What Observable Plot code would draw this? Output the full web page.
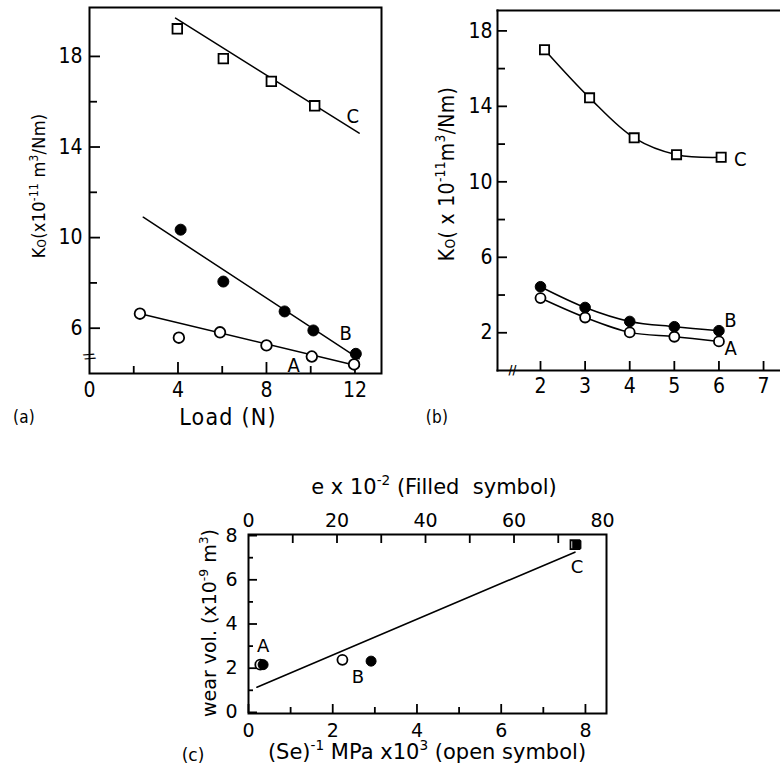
<!DOCTYPE html>
<html><head><meta charset="utf-8">
<script src="https://cdn.jsdelivr.net/npm/d3@7"></script>
<script src="https://cdn.jsdelivr.net/npm/@observablehq/plot@0.6"></script>
<style>
body{margin:0;background:#fff;overflow:hidden}
#root{position:relative;width:780px;height:778px;background:#fff;color:#000;overflow:hidden}
#root svg{position:absolute}
.lab{position:absolute;white-space:nowrap;transform:translate(-50%,-50%);line-height:1;font-family:"Liberation Sans Narrow","DejaVu Sans Condensed",sans-serif;font-size:21px;letter-spacing:0.3px}
.rot{transform:translate(-50%,-50%) rotate(-90deg)}
.c{font-family:"DejaVu Sans",sans-serif;font-size:21px;letter-spacing:0}
sup{font-size:0.65em;vertical-align:0.6em;line-height:0}
sub{font-size:0.65em;vertical-align:-0.1em;line-height:0}
</style></head>
<body><div id="root"></div>
<script>
// ---------- panel (a): Ko vs Load ----------
const aLoadA = [2.28, 4.04, 5.9, 8.0, 10.05, 11.96];
const aKoA   = [6.64, 5.58, 5.82, 5.24, 4.75, 4.4];
const aLoadB = [4.12, 6.05, 8.82, 10.12, 12.04];
const aKoB   = [10.35, 8.06, 6.74, 5.90, 4.87];
const aLoadC = [3.97, 6.05, 8.22, 10.18];
const aKoC   = [19.22, 17.9, 16.9, 15.82];
const aFitLoadA = [2.3, 12.19],  aFitKoA = [6.64, 4.32];
const aFitLoadB = [2.43, 12.19], aFitKoB = [10.9, 4.65];
const aFitLoadC = [3.89, 12.19], aFitKoC = [19.69, 14.61];
const aNames = ["A", "B", "C"];
const aNameLoad = [9.23, 11.58, 11.9];
const aNameKo = [4.35, 5.77, 15.35];
const aYTicks = [6, 10, 14, 18], aYMinor = [8, 12, 16];
const aXLabels = [0, 4, 8, 12], aXTicks = [4, 8, 12], aXMinor = [2, 6, 10];
const aBreakKo = [4.75];

// ---------- panel (b) ----------
const bX = [2, 3, 4, 5, 6];
const bXC = [2.09, 3.1, 4.1, 5.05, 6.05];
const bKoA = [3.84, 2.81, 2.02, 1.79, 1.54];
const bKoB = [4.44, 3.34, 2.60, 2.32, 2.11];
const bKoC = [17.0, 14.45, 12.33, 11.44, 11.3];
const bNames = ["A", "B", "C"];
const bNameX = [6.26, 6.26, 6.48];
const bNameKo = [1.15, 2.64, 11.2];
const bYTicks = [2, 6, 10, 14, 18], bYMinor = [4, 8, 12, 16];
const bXTicks = [2, 3, 4, 5, 6, 7];
const bBreakX = [1.37];

// ---------- panel (c): wear volume ----------
const cOpenSe = [0.28, 2.23];       // (Se)^-1 MPa x10^3, open circles A, B
const cOpenWear = [2.16, 2.38];
const cFilledE = [3.3, 27.7];       // e x10^-2, filled circles A, B
const cFilledWear = [2.16, 2.32];
const cSquareSe = [7.75], cSquareWear = [7.59];   // C open
const cSquareE = [74.2];                          // C filled
const cFitSe = [0.2, 7.75], cFitWear = [1.14, 7.25];
const cNames = ["A", "B", "C"];
const cNameSe = [0.35, 2.6, 7.8];
const cNameWear = [3.0, 1.6, 6.55];
const cYTicks = [0, 2, 4, 6, 8], cYMinor = [1, 3, 5, 7];
const cXTicks = [0, 2, 4, 6, 8], cXMinor = [1, 3, 5, 7];
const cTopTicks = [0, 20, 40, 60, 80], cTopMinor = [10, 20, 30, 40, 50, 60, 70];

const root = document.getElementById("root");
const pts = (xs, ys) => xs.map((x, i) => ({x, y: ys[i]}));
const lbl = (xs, ys, t) => xs.map((x, i) => ({x, y: ys[i], t: t[i]}));
const narrow = '"Liberation Sans Narrow","DejaVu Sans Condensed",sans-serif';
const K = "#000";

function place(svg, left, top) {
  svg.style.left = left + "px"; svg.style.top = top + "px";
  root.appendChild(svg);
}

// panel (a)
{
  const W = 390, H = 420, mL = 89, mT = 7, mR = 9, mB = 47;
  const fw = W - mL - mR, fh = H - mT - mB;
  const svg = Plot.plot({
    width: W, height: H, marginLeft: mL, marginTop: mT, marginRight: mR, marginBottom: mB,
    x: {domain: [0, 13.2]}, y: {domain: [4.0, 20.16]},
    style: {fontFamily: narrow, fontSize: "21px", color: K, background: "transparent", overflow: "visible"},
    marks: [
      Plot.frame({stroke: K, strokeWidth: 2}),
      Plot.tickY(aYTicks, {y: d => d, insetRight: fw - 11, stroke: K, strokeWidth: 1.8}),
      Plot.tickY(aYMinor, {y: d => d, insetRight: fw - 8, stroke: K, strokeWidth: 1.8}),
      Plot.tickX(aXTicks, {x: d => d, insetTop: fh - 11, stroke: K, strokeWidth: 1.8}),
      Plot.tickX(aXMinor, {x: d => d, insetTop: fh - 7, stroke: K, strokeWidth: 1.8}),
      Plot.axisY(aYTicks, {tickSize: 0, tickPadding: 7, label: null, fontSize: 21}),
      Plot.axisX(aXLabels, {tickSize: 0, tickPadding: 9, label: null, fontSize: 21}),
      Plot.text(aBreakKo, {x: 0, y: d => d, text: () => "//", rotate: 70, fontSize: 13, fontWeight: "bold"}),
      Plot.line(pts(aFitLoadC, aFitKoC), {x: "x", y: "y", stroke: K, strokeWidth: 1.5}),
      Plot.line(pts(aFitLoadB, aFitKoB), {x: "x", y: "y", stroke: K, strokeWidth: 1.5}),
      Plot.line(pts(aFitLoadA, aFitKoA), {x: "x", y: "y", stroke: K, strokeWidth: 1.5}),
      Plot.dot(pts(aLoadA, aKoA), {x: "x", y: "y", r: 5.3, fill: "#fff", stroke: K, strokeWidth: 1.8}),
      Plot.dot(pts(aLoadB, aKoB), {x: "x", y: "y", r: 5.5, fill: K, stroke: K, strokeWidth: 1}),
      Plot.dot(pts(aLoadC, aKoC), {x: "x", y: "y", r: 5.4, symbol: "square", fill: "#fff", stroke: K, strokeWidth: 1.8}),
      Plot.text(lbl(aNameLoad, aNameKo, aNames), {x: "x", y: "y", text: "t", fontSize: 20})
    ]
  });
  place(svg, 0, 0);
}

// panel (b)
{
  const W = 390, H = 420, mL = 107, mT = 10, mR = 0, mB = 50;
  const fw = W - mL - mR, fh = H - mT - mB;
  const svg = Plot.plot({
    width: W, height: H, marginLeft: mL, marginTop: mT, marginRight: mR, marginBottom: mB,
    x: {domain: [1.036, 7.38]}, y: {domain: [0, 19.08]},
    style: {fontFamily: narrow, fontSize: "21px", color: K, background: "transparent", overflow: "visible"},
    marks: [
      Plot.frame({anchor: "left", stroke: K, strokeWidth: 2}),
      Plot.frame({anchor: "bottom", stroke: K, strokeWidth: 2}),
      Plot.frame({anchor: "top", stroke: K, strokeWidth: 2}),
      Plot.tickY(bYTicks, {y: d => d, insetRight: fw - 10, stroke: K, strokeWidth: 1.8}),
      Plot.tickY(bYMinor, {y: d => d, insetRight: fw - 8, stroke: K, strokeWidth: 1.8}),
      Plot.tickX(bXTicks, {x: d => d, insetTop: fh - 9, stroke: K, strokeWidth: 1.8}),
      Plot.axisY(bYTicks, {tickSize: 0, tickPadding: 5, label: null, fontSize: 21}),
      Plot.axisX(bXTicks, {tickSize: 0, tickPadding: 8, label: null, fontSize: 21}),
      Plot.text(bBreakX, {x: d => d, y: 0, text: () => "//", fontSize: 12, fontWeight: "bold"}),
      Plot.line(pts(bXC, bKoC), {x: "x", y: "y", stroke: K, strokeWidth: 1.5, curve: "catmull-rom"}),
      Plot.line(pts(bX, bKoB), {x: "x", y: "y", stroke: K, strokeWidth: 1.5, curve: "catmull-rom"}),
      Plot.line(pts(bX, bKoA), {x: "x", y: "y", stroke: K, strokeWidth: 1.5, curve: "catmull-rom"}),
      Plot.dot(pts(bX, bKoB), {x: "x", y: "y", r: 5.3, fill: K, stroke: K, strokeWidth: 1}),
      Plot.dot(pts(bX, bKoA), {x: "x", y: "y", r: 5, fill: "#fff", stroke: K, strokeWidth: 1.8}),
      Plot.dot(pts(bXC, bKoC), {x: "x", y: "y", r: 5.2, symbol: "square", fill: "#fff", stroke: K, strokeWidth: 1.8}),
      Plot.text(lbl(bNameX, bNameKo, bNames), {x: "x", y: "y", text: "t", fontSize: 20})
    ]
  });
  place(svg, 390, 0);
}

// panel (c)
{
  const W = 780, H = 260, mL = 248, mT = 54, mR = 174, mB = 27;
  const fw = W - mL - mR, fh = H - mT - mB;
  const yDom = [-0.05, 8.05];
  const st = {fontFamily: '"DejaVu Sans",sans-serif', fontSize: "19px", color: K, background: "transparent", overflow: "visible"};
  const bottom = Plot.plot({
    width: W, height: H, marginLeft: mL, marginTop: mT, marginRight: mR, marginBottom: mB,
    x: {domain: [0, 8.5]}, y: {domain: yDom}, style: st,
    marks: [
      Plot.frame({stroke: K, strokeWidth: 2}),
      Plot.tickY(cYTicks, {y: d => d, insetRight: fw - 9, stroke: K, strokeWidth: 1.8}),
      Plot.tickY(cYMinor, {y: d => d, insetRight: fw - 5, stroke: K, strokeWidth: 1.8}),
      Plot.tickX(cXTicks, {x: d => d, insetTop: fh - 9, stroke: K, strokeWidth: 1.8}),
      Plot.tickX(cXMinor, {x: d => d, insetTop: fh - 6, stroke: K, strokeWidth: 1.8}),
      Plot.axisY(cYTicks, {tickSize: 0, tickPadding: 11, label: null, fontSize: 19}),
      Plot.axisX(cXTicks, {tickSize: 0, tickPadding: 10, label: null, fontSize: 19}),
      Plot.line(pts(cFitSe, cFitWear), {x: "x", y: "y", stroke: K, strokeWidth: 1.6}),
      Plot.dot(pts(cOpenSe, cOpenWear), {x: "x", y: "y", r: 5, fill: "#fff", stroke: K, strokeWidth: 1.8}),
      Plot.dot(pts(cSquareSe, cSquareWear), {x: "x", y: "y", r: 5, symbol: "square", fill: "#fff", stroke: K, strokeWidth: 1.8}),
      Plot.text(lbl(cNameSe, cNameWear, cNames), {x: "x", y: "y", text: "t", fontSize: 18})
    ]
  });
  place(bottom, 0, 480);
  const top = Plot.plot({
    width: W, height: H, marginLeft: mL, marginTop: mT, marginRight: mR, marginBottom: mB,
    x: {domain: [0, 80.9]}, y: {domain: yDom, axis: null}, style: st,
    marks: [
      Plot.tickX(cTopMinor, {x: d => d, insetBottom: fh - 9, stroke: K, strokeWidth: 1.8}),
      Plot.axisX(cTopTicks, {anchor: "top", tickSize: 0, tickPadding: 8, label: null, fontSize: 19}),
      Plot.dot(pts(cFilledE, cFilledWear), {x: "x", y: "y", r: 5, fill: K, stroke: K, strokeWidth: 1}),
      Plot.dot(pts(cSquareE, cSquareWear), {x: "x", y: "y", r: 4.6, symbol: "square", fill: K, stroke: K, strokeWidth: 1})
    ]
  });
  place(top, 0, 480);
}

// titles
const labels = [
  {html: 'K<sub>O</sub>(x10<sup>-11</sup> m<sup>3</sup>/Nm)', x: 39, y: 186, rot: true, size: 18},
  {html: 'Load (N)', x: 228, y: 417, size: 23, ls: 1.2},
  {html: '(a)', x: 24, y: 417, size: 17},
  {html: 'K<sub>O</sub>( x 10<sup>-11</sup>m<sup>3</sup>/Nm)', x: 447, y: 174, rot: true},
  {html: '(b)', x: 437, y: 417, size: 17},
  {html: 'e x 10<sup>-2</sup> (Filled&nbsp; symbol)', x: 434, y: 487, c: true},
  {html: '(Se)<sup>-1</sup> MPa x10<sup>3</sup> (open symbol)', x: 427, y: 752, c: true},
  {html: '(c)', x: 193, y: 755, c: true, size: 17},
  {html: 'wear vol. (x10<sup>-9</sup> m<sup>3</sup>)', x: 209, y: 623, c: true, rot: true, size: 19}
];
for (const l of labels) {
  const d = document.createElement("div");
  d.className = "lab" + (l.rot ? " rot" : "") + (l.c ? " c" : "");
  d.innerHTML = l.html;
  d.style.left = l.x + "px"; d.style.top = l.y + "px";
  if (l.size) d.style.fontSize = l.size + "px";
  if (l.ls) d.style.letterSpacing = l.ls + "px";
  root.appendChild(d);
}
</script>
</body></html>
